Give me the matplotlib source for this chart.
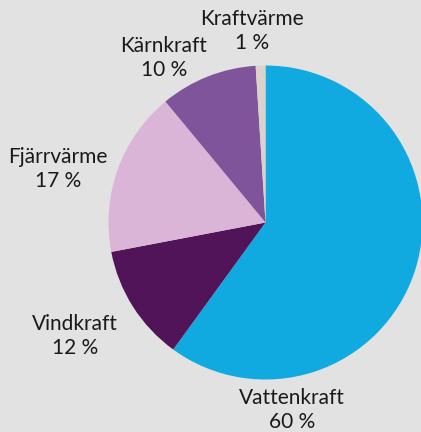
import matplotlib
matplotlib.use("Agg")
import matplotlib.pyplot as plt

# energy sources, clockwise from 12 o'clock
labels = ["Vattenkraft", "Vindkraft", "Fjärrvärme", "Kärnkraft", "Kraftvärme"]
shares = [60, 12, 17, 10, 1]
colors = ["#10a9e0", "#521459", "#dbb5d7", "#80549b", "#dcd2cc"]

# label anchor points in pixel coords (x from left, y from top)
label_pos = [(292, 410), (75, 336), (58, 169), (164, 58), (252, 31)]

plt.rcParams["font.family"] = ["Lato", "DejaVu Sans"]

W, H = 421, 432
fig = plt.figure(figsize=(W / 100, H / 100), dpi=100, facecolor="#e2e2e2")
ax = fig.add_axes([0, 0, 1, 1])
ax.set_facecolor("#e2e2e2")

cx, cy, r = 265.5, H - 222.5, 157
ax.pie(shares, colors=colors, startangle=90, counterclock=False,
       center=(cx, cy), radius=r, frame=True,
       wedgeprops=dict(linewidth=0))

for name, val, (x, y) in zip(labels, shares, label_pos):
    ax.text(x, H - y, f"{name}\n{val} %", ha="center", va="center",
            fontsize=15, color="#1a1a1a", linespacing=1.2)

ax.set_xlim(0, W)
ax.set_ylim(0, H)
ax.set_aspect("equal")
ax.axis("off")

fig.savefig("out.png", dpi=100, facecolor=fig.get_facecolor())
